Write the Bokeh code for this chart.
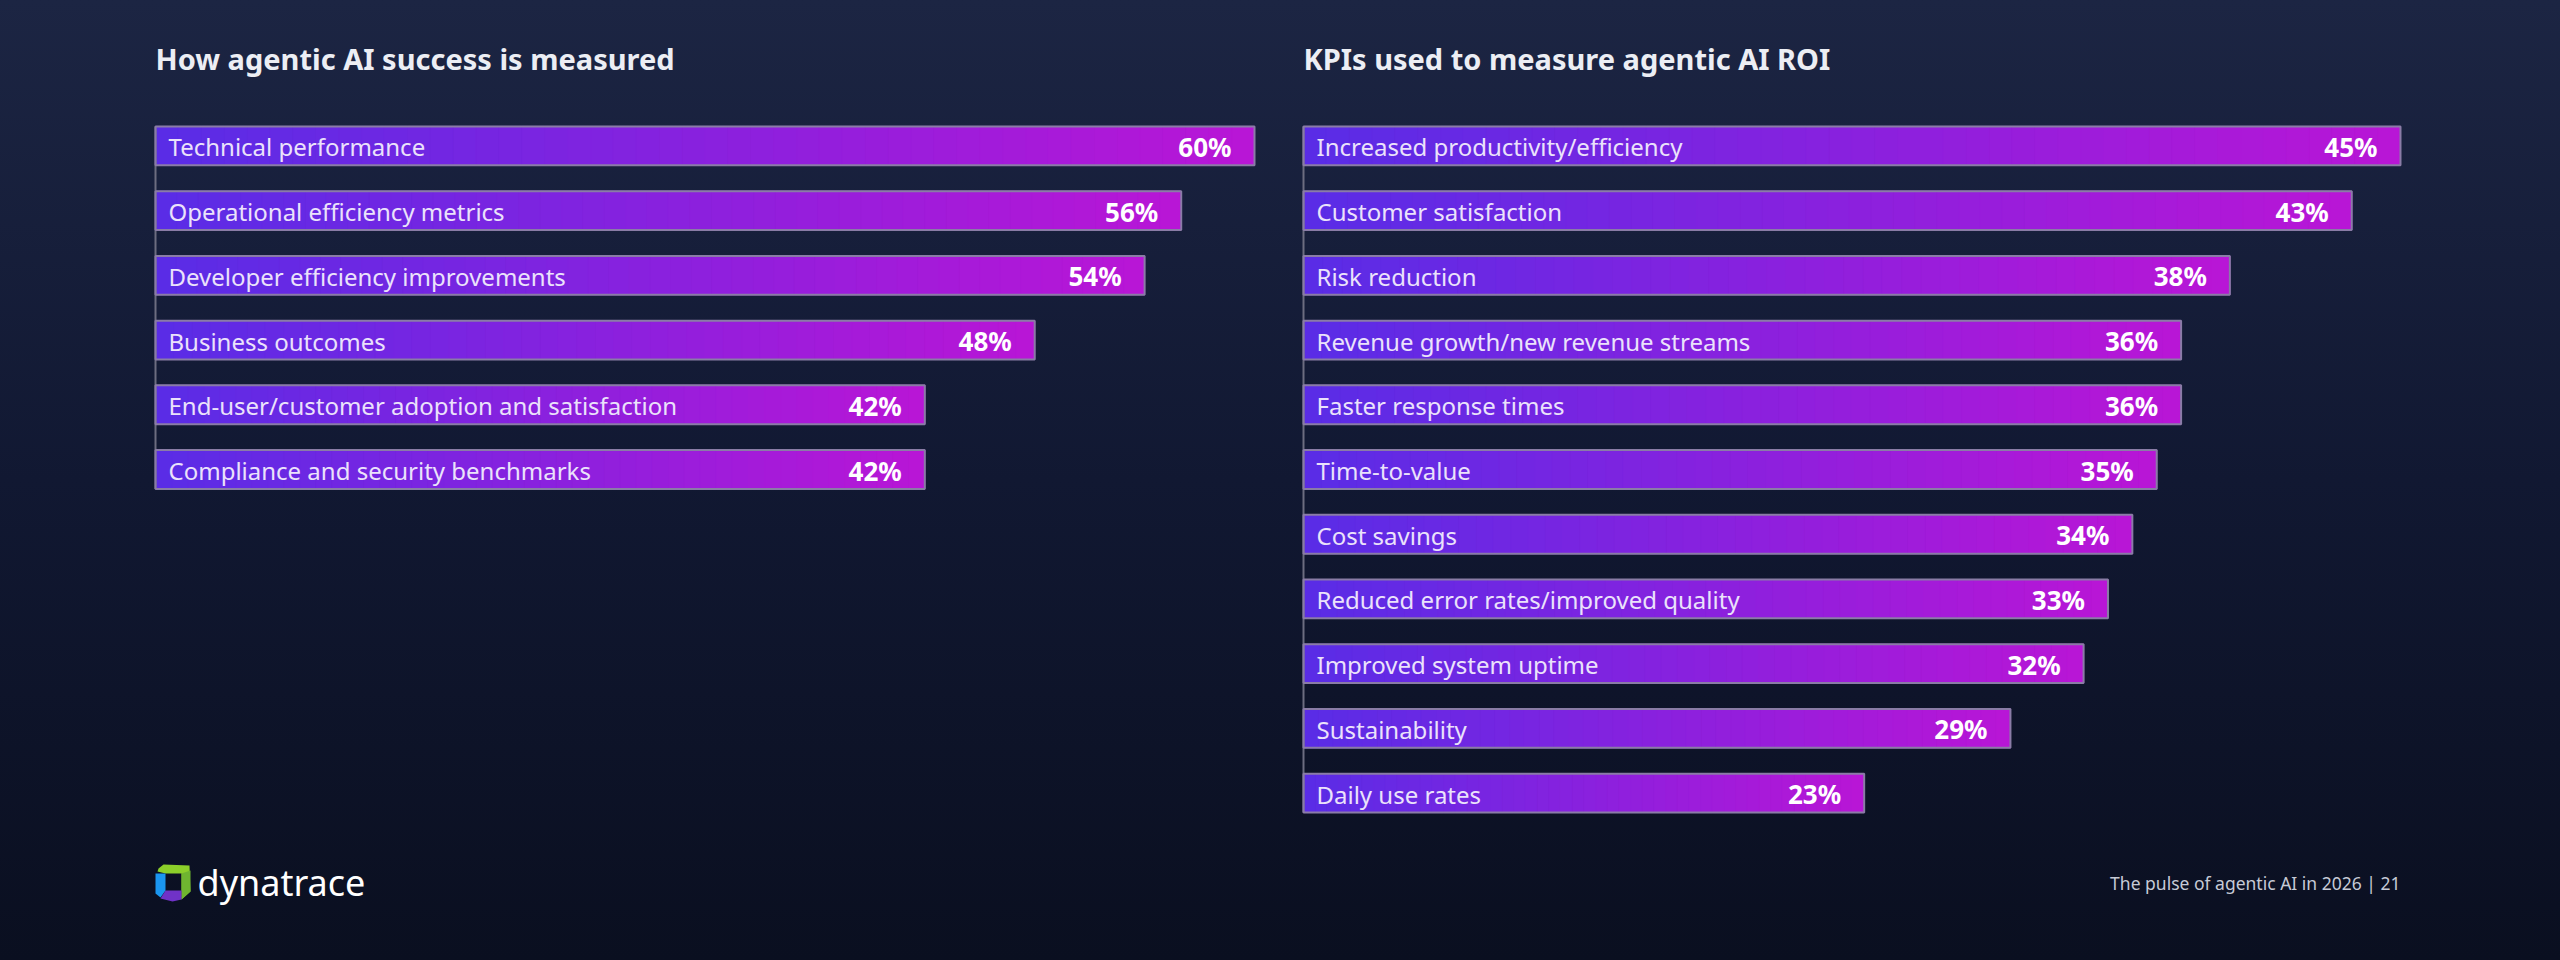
import numpy as np
from bokeh.plotting import figure
from bokeh.models import Range1d
from bokeh.layouts import row, column
from bokeh.embed import file_html
from bokeh.resources import INLINE
from bokeh.core.properties import value

# ---------------- data ----------------
left_title = "How agentic AI success is measured"
left_cats = [
    "Technical performance",
    "Operational efficiency metrics",
    "Developer efficiency improvements",
    "Business outcomes",
    "End-user/customer adoption and satisfaction",
    "Compliance and security benchmarks",
]
left_vals = [60, 56, 54, 48, 42, 42]

right_title = "KPIs used to measure agentic AI ROI"
right_cats = [
    "Increased productivity/efficiency",
    "Customer satisfaction",
    "Risk reduction",
    "Revenue growth/new revenue streams",
    "Faster response times",
    "Time-to-value",
    "Cost savings",
    "Reduced error rates/improved quality",
    "Improved system uptime",
    "Sustainability",
    "Daily use rates",
]
right_vals = [45, 43, 38, 36, 36, 35, 34, 33, 32, 29, 23]

footer_text = "The pulse of agentic AI in 2026 | 21"
brand_text = "dynatrace"

# ---------------- style ----------------
FONT = "Noto Sans"
C_START = (90, 44, 230)
C_END = (184, 22, 214)
N_SLICES = 48
N_SLOTS = max(len(left_cats), len(right_cats))


def hexc(c):
    return "#%02x%02x%02x" % tuple(int(round(x)) for x in c)


def make_chart(title, cats, vals, width, border_left, frame_w):
    vmax = max(vals)
    pad = vmax * 2.0 / frame_w
    p = figure(
        width=width, height=840,
        x_range=Range1d(-pad, vmax + pad),
        y_range=Range1d(N_SLOTS - 0.5, -0.5),
        x_axis_location=None, y_axis_location=None,
        toolbar_location=None, output_backend="svg",
        min_border_left=border_left - 2,
        min_border_right=width - border_left - frame_w - 2,
        min_border_top=112, min_border_bottom=15,
        background_fill_alpha=0, border_fill_alpha=0,
        outline_line_color=None, title=title,
    )
    p.grid.visible = False
    p.title.align = "left"
    p.title.offset = 2
    p.title.standoff = 72
    p.title.text_font = FONT
    p.title.text_font_size = "29px"
    p.title.text_font_style = "bold"
    p.title.text_color = "#eceef4"

    idx = list(range(len(vals)))
    ys, lefts, rights, cols = [], [], [], []
    for i, v in zip(idx, vals):
        for k in range(N_SLICES):
            t = k / (N_SLICES - 1)
            ys.append(i)
            lefts.append(v * k / N_SLICES)
            rights.append(v * (k + 1) / N_SLICES)
            cols.append(hexc([C_START[j] + (C_END[j] - C_START[j]) * t for j in range(3)]))
    p.hbar(y=ys, left=lefts, right=rights, height=0.6,
           fill_color=cols, line_color=cols, line_width=1)

    p.segment(x0=[0], y0=[-0.3], x1=[0], y1=[len(vals) - 1 + 0.3],
              line_color="#6c6d80", line_width=2)
    p.hbar(y=idx, left=0, right=vals, height=0.6, fill_alpha=0,
           line_color="#8a7ca6", line_width=2)

    p.text(x=[0] * len(vals), y=idx, text=cats, x_offset=13, y_offset=1,
           text_align="left", text_baseline="middle",
           text_font=value(FONT), text_font_size="24px", text_color="#ebe2fb")
    p.text(x=vals, y=idx, text=[f"{v}%" for v in vals], x_offset=-23, y_offset=1,
           text_align="right", text_baseline="middle",
           text_font=value(FONT), text_font_size="26px", text_font_style="bold",
           text_color="#ffffff")
    return p


left = make_chart(left_title, left_cats, left_vals, 1280, 155, 1099)
right = make_chart(right_title, right_cats, right_vals, 1280, 23, 1097)

# ---------------- footer ----------------
foot = figure(width=2560, height=120, x_range=Range1d(0, 2560), y_range=Range1d(120, 0),
              x_axis_location=None, y_axis_location=None, toolbar_location=None,
              output_backend="svg", min_border=0,
              background_fill_alpha=0, border_fill_alpha=0, outline_line_color=None)
foot.grid.visible = False

# logo icon (decorative)
foot.patch(x=[158, 163, 189, 190, 181, 181, 165, 157], y=[28, 24, 25, 51, 59, 33, 33, 31],
           fill_color="#8ccf2a", line_color=None)
foot.patch(x=[181, 190, 190, 181], y=[33, 30, 51, 59], fill_color="#6fb530", line_color=None)
foot.patch(x=[155, 165, 165, 160, 155], y=[33, 33, 50, 57, 53], fill_color="#1a96f0", line_color=None)
foot.patch(x=[165, 181, 181, 172, 160], y=[50, 50, 59, 61, 58], fill_color="#7032c8", line_color=None)

foot.text(x=[197], y=[42], text=[brand_text], text_align="left", text_baseline="alphabetic",
          text_font=value(FONT), text_font_size="36px", text_color="#ffffff")
foot.text(x=[2400], y=[42], text=[footer_text], text_align="right", text_baseline="alphabetic",
          text_font=value(FONT), text_font_size="17.5px", text_color="#c6cad6")

page = column(
    row(left, right),
    foot,
    styles={"background": "linear-gradient(180deg, #1c2543 0%, #111832 50%, #0a0f20 100%)"},
)

open("out.html", "w").write(file_html(page, INLINE))
